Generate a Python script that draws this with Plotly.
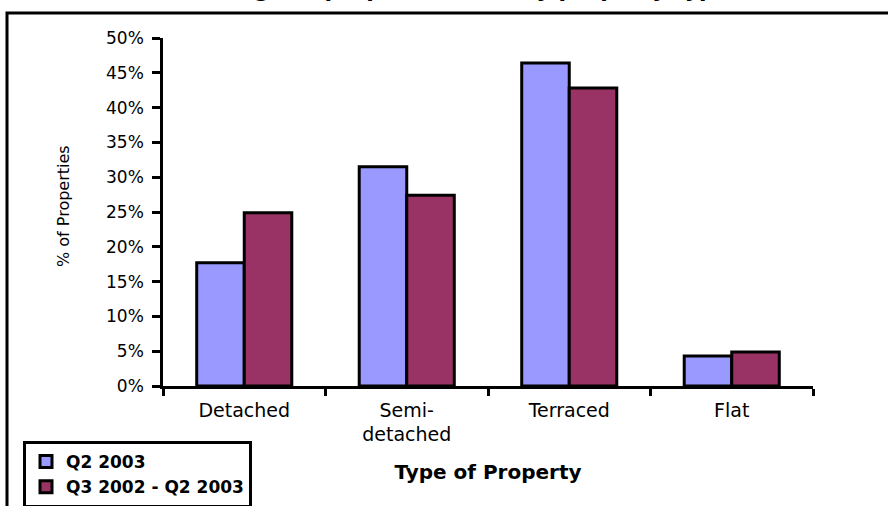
import plotly.graph_objects as go

categories = ["Detached", "Semi-<br>detached", "Terraced", "Flat"]
q2_2003 = [17.7, 31.5, 46.4, 4.3]
q3_2002_q2_2003 = [24.9, 27.4, 42.8, 4.9]
series_names = ["Q2 2003", "Q3 2002 - Q2 2003"]
y_ticks = [0, 5, 10, 15, 20, 25, 30, 35, 40, 45, 50]
y_ticklabels = [f"{v}%" for v in y_ticks]
title_text = "Percentage of properties sold by property type"
x_title = "Type of Property"
y_title = "% of Properties"

W, H = 888, 506
L, R, T, B = 163, 75, 38, 120
pw, ph = W - L - R, H - T - B
def px(x):
    return (x - L) / pw
def py(y):
    return (H - B - y) / ph

FONT = "'DejaVu Sans', sans-serif"

fig = go.Figure()
fig.add_trace(go.Bar(x=categories, y=q2_2003, name=series_names[0],
                     marker=dict(color="#9999FF", line=dict(color="black", width=3))))
fig.add_trace(go.Bar(x=categories, y=q3_2002_q2_2003, name=series_names[1],
                     marker=dict(color="#993366", line=dict(color="black", width=3))))

fig.update_layout(
    width=W, height=H,
    margin=dict(l=L, r=R, t=T, b=B, autoexpand=False),
    paper_bgcolor="white", plot_bgcolor="white",
    barmode="group", bargap=0.415, bargroupgap=0,
    font=dict(family=FONT, color="black", size=15),
    showlegend=True,
    legend=dict(xref="container", yref="container",
                x=23 / W, y=1 - 441 / H, xanchor="left", yanchor="top",
                bgcolor="white", bordercolor="black", borderwidth=3,
                font=dict(family=FONT, size=17, color="black", weight="bold"),
                tracegroupgap=0, itemwidth=30),
    xaxis=dict(showline=True, linecolor="black", linewidth=2.5, automargin=True,
               ticks="outside", tickson="boundaries", ticklen=7, tickwidth=2.5,
               tickcolor="black", tickfont=dict(size=19, family=FONT), ticklabelstandoff=5,
               title=dict(text=f"<b>{x_title}</b>", font=dict(size=20, family=FONT), standoff=21),
               showgrid=False),
    yaxis=dict(range=[0, 50], tickvals=y_ticks, ticktext=y_ticklabels, automargin=True,
               showline=True, linecolor="black", linewidth=2.5,
               ticks="outside", ticklen=8, tickwidth=2.5, tickcolor="black",
               tickfont=dict(size=17, family=FONT), ticklabelstandoff=5,
               showgrid=False, zeroline=False),
)

fig.add_annotation(text=y_title, xref="paper", yref="paper",
                   x=px(63), y=py(206), xanchor="center", yanchor="middle", textangle=-90,
                   showarrow=False, font=dict(size=16, family=FONT, color="black"))

fig.add_annotation(text=f"<b>{title_text}</b>", xref="paper", yref="paper",
                   x=px(436), y=py(-10.5), xanchor="center", yanchor="middle",
                   showarrow=False, font=dict(size=22, family=FONT, color="black"))

fig.add_shape(type="rect", xref="paper", yref="paper",
              x0=px(7), x1=px(905), y0=py(530), y1=py(13),
              line=dict(color="black", width=3), fillcolor="rgba(0,0,0,0)", layer="below")

fig.write_html("out.html")
